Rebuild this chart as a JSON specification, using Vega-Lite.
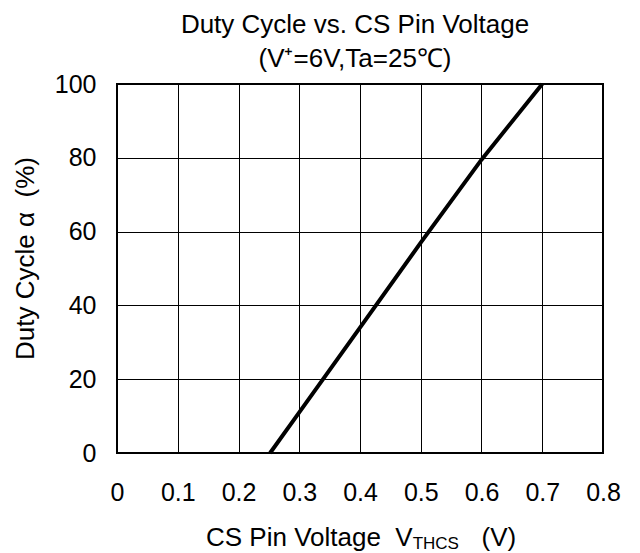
{
  "$schema": "https://vega.github.io/schema/vega-lite/v6.json",
  "width": 486,
  "height": 369,
  "autosize": {"type": "none"},
  "padding": {"left": 117, "top": 84, "right": 37, "bottom": 100},
  "background": "white",
  "title": {
    "text": ["Duty Cycle vs. CS Pin Voltage", "(V⁺=6V,Ta=25℃)"],
    "fontSize": 26,
    "font": "Liberation Sans",
    "fontWeight": "normal",
    "color": "black",
    "lineHeight": 34,
    "anchor": "middle",
    "dx": -5,
    "offset": 0
  },
  "config": {
    "view": {"stroke": "black", "strokeWidth": 2},
    "axis": {
      "grid": true,
      "gridColor": "black",
      "gridWidth": 1,
      "gridOpacity": 1,
      "domain": false,
      "ticks": false,
      "tickSize": 0,
      "labelFont": "Liberation Sans",
      "labelFontSize": 25,
      "labelColor": "black",
      "titleFont": "Liberation Sans",
      "titleFontSize": 26,
      "titleFontWeight": "normal",
      "titleColor": "black"
    }
  },
  "layer": [
    {
      "data": {
        "values": [
          {"v": 0.252, "d": 0},
          {"v": 0.3, "d": 11},
          {"v": 0.4, "d": 34},
          {"v": 0.5, "d": 57},
          {"v": 0.6, "d": 79.5},
          {"v": 0.7, "d": 100}
        ]
      },
      "mark": {"type": "line", "color": "black", "strokeWidth": 4, "clip": false},
      "encoding": {
        "x": {
          "field": "v",
          "type": "quantitative",
          "scale": {"domain": [0, 0.8], "nice": false},
          "axis": {
            "values": [0, 0.1, 0.2, 0.3, 0.4, 0.5, 0.6, 0.7, 0.8],
            "format": "~g",
            "title": null,
            "labelPadding": 27,
            "labelFlush": false,
            "labelOverlap": false
          }
        },
        "y": {
          "field": "d",
          "type": "quantitative",
          "scale": {"domain": [0, 100], "nice": false},
          "axis": {
            "values": [0, 20, 40, 60, 80, 100],
            "title": "Duty Cycle α\u00a0 (%)",
            "labelPadding": 21,
            "labelFlush": false,
            "labelOverlap": false,
            "titleAngle": 270,
            "titleBaseline": "alphabetic",
            "titleAlign": "center",
            "titleX": -84,
            "titleY": 174
          }
        }
      }
    },
    {
      "data": {"values": [{}]},
      "mark": {"type": "text", "text": "CS Pin Voltage\u00a0 V", "align": "right", "baseline": "alphabetic", "font": "Liberation Sans", "fontSize": 26, "color": "black"},
      "encoding": {
        "x": {"datum": 0.4867, "type": "quantitative"},
        "y": {"datum": -25.2, "type": "quantitative"}
      }
    },
    {
      "data": {"values": [{}]},
      "mark": {"type": "text", "text": "THCS", "align": "left", "baseline": "alphabetic", "font": "Liberation Sans", "fontSize": 17, "color": "black"},
      "encoding": {
        "x": {"datum": 0.4867, "type": "quantitative"},
        "y": {"datum": -26.1, "type": "quantitative"}
      }
    },
    {
      "data": {"values": [{}]},
      "mark": {"type": "text", "text": "(V)", "align": "left", "baseline": "alphabetic", "font": "Liberation Sans", "fontSize": 26, "color": "black"},
      "encoding": {
        "x": {"datum": 0.6, "type": "quantitative"},
        "y": {"datum": -25.2, "type": "quantitative"}
      }
    }
  ]
}
